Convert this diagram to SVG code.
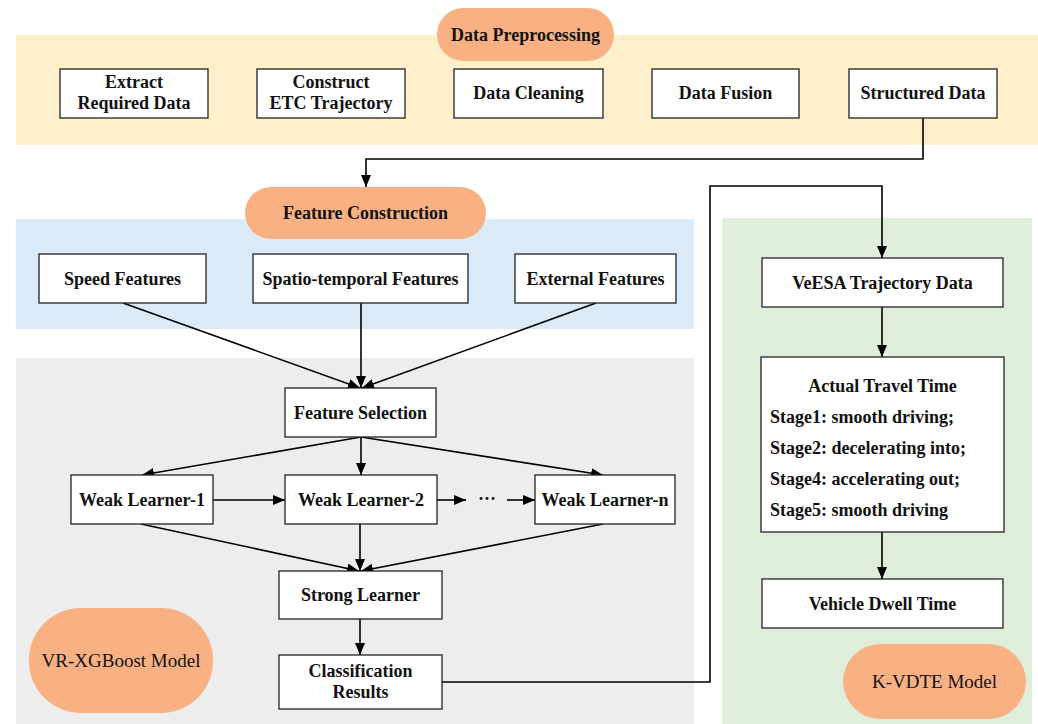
<svg xmlns="http://www.w3.org/2000/svg" width="1038" height="724" viewBox="0 0 1038 724">
<defs>
<marker id="ah" markerUnits="userSpaceOnUse" markerWidth="12" markerHeight="10" refX="12" refY="5" orient="auto">
<path d="M0,0 L12,5 L0,10 z" fill="#000"/>
</marker>
<style>
.box{fill:#fff;stroke:#222;stroke-width:1.3}
.t{font-family:"Liberation Serif","Times New Roman",serif;font-weight:bold;font-size:18px;fill:#111;text-anchor:middle}
.tl{font-family:"Liberation Serif","Times New Roman",serif;font-weight:bold;font-size:18px;fill:#111}
.r{font-family:"Liberation Serif","Times New Roman",serif;font-size:19px;fill:#111;text-anchor:middle}
.pill{fill:#F9B183}
.c{fill:none;stroke:#000;stroke-width:1.6}
</style>
</defs>
<g id="panels">
<rect x="16" y="35" width="1022" height="110" fill="#FFF0CC"/>
<rect x="16" y="219" width="678" height="110" fill="#DAEAF6"/>
<rect x="16" y="358" width="678" height="366" fill="#EDEDED"/>
<rect x="722" y="218" width="310" height="506" fill="#DFEEDB"/>
</g>
<g id="connectors">
<path class="c" d="M923,118 V159 H366 V187" marker-end="url(#ah)"/>
<path class="c" d="M442,682 H710 V186 H882 V258" marker-end="url(#ah)"/>
<path class="c" d="M123,303 L360,388" marker-end="url(#ah)"/>
<path class="c" d="M361,303 L361,388" marker-end="url(#ah)"/>
<path class="c" d="M596,303 L362,388" marker-end="url(#ah)"/>
<path class="c" d="M361,437 L142,475" marker-end="url(#ah)"/>
<path class="c" d="M361,437 L361,475" marker-end="url(#ah)"/>
<path class="c" d="M361,437 L603,475" marker-end="url(#ah)"/>
<path class="c" d="M213,500 L285,500" marker-end="url(#ah)"/>
<path class="c" d="M437,500 L466,500" marker-end="url(#ah)"/>
<path class="c" d="M507,500 L535,500" marker-end="url(#ah)"/>
<path class="c" d="M141,524 L359,571" marker-end="url(#ah)"/>
<path class="c" d="M360,524 L360,571" marker-end="url(#ah)"/>
<path class="c" d="M603,524 L361,571" marker-end="url(#ah)"/>
<path class="c" d="M360,619 L360,655" marker-end="url(#ah)"/>
<path class="c" d="M882,307 L882,357" marker-end="url(#ah)"/>
<path class="c" d="M882,532 L882,579" marker-end="url(#ah)"/>
</g>
<g id="data-preprocessing">
<rect class="pill" x="437" y="8" width="177" height="53" rx="26.5"/>
<text class="t" x="525.5" y="41">Data Preprocessing</text>
</g>
<g id="extract">
<rect class="box" x="60" y="69" width="148" height="49"/>
<text class="t" x="134" y="88">Extract</text>
<text class="t" x="134" y="109">Required Data</text>
</g>
<g id="construct">
<rect class="box" x="257" y="69" width="148" height="49"/>
<text class="t" x="331" y="88">Construct</text>
<text class="t" x="331" y="109">ETC Trajectory</text>
</g>
<g id="cleaning">
<rect class="box" x="454" y="69" width="149" height="49"/>
<text class="t" x="528.5" y="99">Data Cleaning</text>
</g>
<g id="fusion">
<rect class="box" x="652" y="69" width="147" height="49"/>
<text class="t" x="725.5" y="99">Data Fusion</text>
</g>
<g id="structured">
<rect class="box" x="849" y="69" width="148" height="49"/>
<text class="t" x="923" y="99">Structured Data</text>
</g>
<g id="feature-construction">
<rect class="pill" x="245" y="187" width="241" height="52" rx="26"/>
<text class="t" x="365.5" y="219">Feature Construction</text>
</g>
<g id="speed">
<rect class="box" x="39" y="254" width="167" height="49"/>
<text class="t" x="122.5" y="285">Speed Features</text>
</g>
<g id="spatio">
<rect class="box" x="253" y="254" width="215" height="49"/>
<text class="t" x="360.5" y="285">Spatio-temporal Features</text>
</g>
<g id="external">
<rect class="box" x="515" y="254" width="161" height="49"/>
<text class="t" x="595.5" y="285">External Features</text>
</g>
<g id="feature-selection">
<rect class="box" x="285" y="388" width="151" height="49"/>
<text class="t" x="360.5" y="419">Feature Selection</text>
</g>
<g id="weak1">
<rect class="box" x="71" y="475" width="142" height="49"/>
<text class="t" x="142" y="506">Weak Learner-1</text>
</g>
<g id="weak2">
<rect class="box" x="285" y="475" width="152" height="49"/>
<text class="t" x="361" y="506">Weak Learner-2</text>
</g>
<g id="dots">
<text class="t" x="487" y="505">···</text>
</g>
<g id="weakn">
<rect class="box" x="535" y="475" width="140" height="49"/>
<text class="t" x="605" y="506">Weak Learner-n</text>
</g>
<g id="strong">
<rect class="box" x="279" y="571" width="163" height="48"/>
<text class="t" x="360.5" y="601">Strong Learner</text>
</g>
<g id="classification">
<rect class="box" x="279" y="655" width="163" height="54"/>
<text class="t" x="360.5" y="677">Classification</text>
<text class="t" x="360.5" y="698">Results</text>
</g>
<g id="vr-xgboost">
<rect class="pill" x="29" y="608" width="184" height="105" rx="52"/>
<text class="r" x="121" y="667">VR-XGBoost Model</text>
</g>
<g id="veesa">
<rect class="box" x="762" y="258" width="241" height="49"/>
<text class="t" x="882.5" y="289">VeESA Trajectory Data</text>
</g>
<g id="actual">
<rect class="box" x="761" y="357" width="243" height="175"/>
<text class="t" x="882.5" y="392">Actual Travel Time</text>
<text class="tl" x="770" y="423">Stage1: smooth driving;</text>
<text class="tl" x="770" y="454">Stage2: decelerating into;</text>
<text class="tl" x="770" y="485">Stage4: accelerating out;</text>
<text class="tl" x="770" y="516">Stage5: smooth driving</text>
</g>
<g id="dwell">
<rect class="box" x="762" y="579" width="241" height="49"/>
<text class="t" x="882.5" y="610">Vehicle Dwell Time</text>
</g>
<g id="k-vdte">
<rect class="pill" x="843" y="644" width="183" height="75" rx="37.5"/>
<text class="r" x="934.5" y="688">K-VDTE Model</text>
</g>
</svg>
